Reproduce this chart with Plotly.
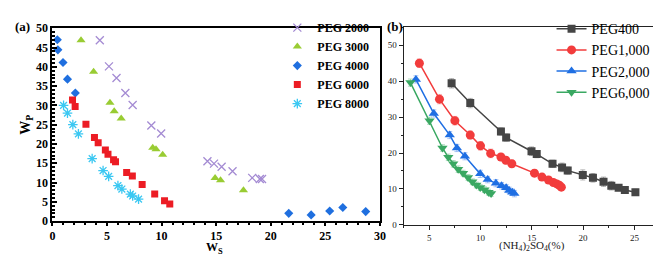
import plotly.graph_objects as go

# ---------------- Panel (a) data: W_P vs W_S ----------------
peg2000_ws = [4.34, 5.18, 5.87, 6.68, 7.35, 9.06, 9.96, 14.2, 14.8, 15.5, 16.5, 18.3, 19.0, 19.2]
peg2000_wp = [46.9, 40.1, 37.1, 33.2, 30.1, 24.8, 22.7, 15.5, 14.9, 14.1, 12.9, 11.2, 10.9, 10.9]

peg3000_ws = [2.62, 3.77, 5.27, 5.66, 6.30, 9.19, 9.49, 10.1, 14.9, 15.4, 17.5]
peg3000_wp = [46.9, 38.7, 30.7, 28.5, 26.6, 19.0, 18.6, 17.2, 11.2, 10.6, 8.0]

peg4000_ws = [0.45, 0.50, 0.97, 1.38, 2.10, 21.65, 23.7, 25.4, 26.6, 28.7]
peg4000_wp = [47.0, 44.4, 41.1, 36.8, 33.2, 2.0, 1.6, 2.6, 3.5, 2.45]

peg6000_ws = [1.84, 2.08, 3.07, 3.85, 4.19, 4.85, 5.09, 5.60, 5.78, 6.80, 7.32, 8.22, 9.37, 10.27, 10.75]
peg6000_wp = [31.4, 29.7, 25.1, 21.7, 20.3, 18.4, 17.3, 15.9, 15.4, 12.6, 11.7, 9.5, 7.0, 5.3, 4.4]

peg8000_ws = [1.02, 1.38, 1.87, 2.38, 3.64, 4.64, 5.15, 6.00, 6.36, 7.14, 7.35, 7.89]
peg8000_wp = [30.0, 28.0, 25.0, 22.6, 16.2, 13.1, 11.6, 9.2, 8.3, 7.0, 6.5, 5.7]

# ---------------- Panel (b) data: PEG % vs (NH4)2SO4 % ----------------
b400_x = [7.18, 9.0, 11.99, 12.5, 14.97, 15.48, 17.02, 17.95, 18.5, 19.97, 20.96, 21.99, 22.75, 23.46, 24.07, 25.1]
b400_y = [39.4, 33.9, 26.0, 24.3, 20.5, 19.7, 17.0, 16.0, 15.1, 13.9, 13.1, 12.0, 10.9, 10.3, 9.7, 9.1]
b400_err = [1.3, 1.3, 1.0, 1.0, 1.2, 1.0, 1.0, 1.2, 1.0, 1.4, 1.2, 1.3, 1.2, 0.8, 0.8, 0.8]

b1000_x = [4.04, 6.0, 7.5, 9.0, 10.0, 10.99, 11.99, 12.47, 13.05, 15.26, 15.99, 16.63, 17.1, 17.43, 17.69, 17.88]
b1000_y = [45.0, 35.0, 29.0, 25.0, 22.0, 19.9, 18.9, 18.0, 17.0, 14.4, 13.3, 12.5, 11.8, 11.4, 11.0, 10.5]
b1000_err = [1.2, 1.3, 1.2, 1.1, 1.2, 1.2, 1.0, 1.0, 1.0, 1.0, 0.9, 0.8, 0.8, 0.8, 0.7, 0.7]

b2000_x = [3.7, 5.45, 7.0, 7.7, 8.48, 9.97, 10.7, 11.5, 12.05, 12.5, 12.8, 13.1, 13.3]
b2000_y = [40.5, 31.0, 25.0, 21.4, 19.1, 14.2, 12.6, 11.6, 10.9, 10.3, 9.6, 9.1, 8.7]
b2000_err = [1.0, 1.0, 1.0, 1.0, 1.0, 1.0, 0.9, 1.0, 0.9, 0.9, 0.9, 0.9, 0.9]

b6000_x = [3.17, 5.03, 6.29, 6.86, 7.34, 7.82, 8.3, 8.78, 9.2, 9.59, 9.97, 10.38, 10.77, 11.03]
b6000_y = [39.6, 29.0, 21.4, 18.8, 17.0, 15.5, 14.4, 13.2, 12.0, 11.1, 10.4, 9.8, 9.1, 8.7]
b6000_err = [1.0, 1.0, 0.9, 0.9, 0.9, 0.9, 0.8, 0.8, 0.8, 0.8, 0.8, 0.8, 0.8, 0.8]

names_a = ["PEG 2000", "PEG 3000", "PEG 4000", "PEG 6000", "PEG 8000"]
names_b = ["PEG400", "PEG1,000", "PEG2,000", "PEG6,000"]

SERIF = "Liberation Serif"
fig = go.Figure()

# ---- panel (a) traces ----
fig.add_trace(go.Scatter(x=peg2000_ws, y=peg2000_wp, mode="markers", name=names_a[0],
                         marker=dict(symbol="x-thin-open", size=8, color="#a48bd3",
                                     line=dict(width=1.3, color="#a48bd3")),
                         xaxis="x", yaxis="y", legend="legend"))
fig.add_trace(go.Scatter(x=peg3000_ws, y=peg3000_wp, mode="markers", name=names_a[1],
                         marker=dict(symbol="triangle-up", size=8, color="#99cc33"),
                         xaxis="x", yaxis="y", legend="legend"))
fig.add_trace(go.Scatter(x=peg4000_ws, y=peg4000_wp, mode="markers", name=names_a[2],
                         marker=dict(symbol="diamond", size=7, color="#1f6fdf"),
                         xaxis="x", yaxis="y", legend="legend"))
fig.add_trace(go.Scatter(x=peg6000_ws, y=peg6000_wp, mode="markers", name=names_a[3],
                         marker=dict(symbol="square", size=7, color="#ec1c24"),
                         xaxis="x", yaxis="y", legend="legend"))
fig.add_trace(go.Scatter(x=peg8000_ws, y=peg8000_wp, mode="markers", name=names_a[4],
                         marker=dict(symbol="asterisk-open", size=8, color="#3cc8f2",
                                     line=dict(width=1.3, color="#3cc8f2")),
                         xaxis="x", yaxis="y", legend="legend"))

# ---- panel (b) traces ----
def btrace(x, y, err, name, color, errcolor, symbol, size):
    return go.Scatter(x=x, y=y, mode="lines+markers", name=name,
                      line=dict(color=color, width=1.5),
                      marker=dict(symbol=symbol, size=size, color=color),
                      error_y=dict(type="data", array=err, color=errcolor, thickness=1, width=2.5),
                      xaxis="x2", yaxis="y2", legend="legend2")

fig.add_trace(btrace(b400_x, b400_y, b400_err, names_b[0], "#454545", "rgba(90,90,90,0.45)", "square", 8))
fig.add_trace(btrace(b1000_x, b1000_y, b1000_err, names_b[1], "#f23c3c", "rgba(240,80,80,0.4)", "circle", 9))
fig.add_trace(btrace(b2000_x, b2000_y, b2000_err, names_b[2], "#1f6fe3", "rgba(40,110,230,0.4)", "triangle-up", 9))
fig.add_trace(btrace(b6000_x, b6000_y, b6000_err, names_b[3], "#3aa862", "rgba(60,170,100,0.4)", "triangle-down", 9))

W, H = 661, 256
fig.update_layout(
    width=W, height=H,
    margin=dict(l=0, r=0, t=0, b=0),
    paper_bgcolor="white", plot_bgcolor="white",
    font=dict(family=SERIF, color="black"),
    xaxis=dict(domain=[42 / W, 374 / W], range=[0, 30], dtick=5, anchor="y",
               showline=True, linecolor="black", linewidth=2, mirror=True,
               ticks="outside", ticklen=3, tickwidth=1.5, tickcolor="black",
               minor=dict(ticks="outside", ticklen=2, dtick=1, tickcolor="black"),
               showgrid=False, zeroline=False,
               tickfont=dict(family=SERIF, size=12, color="black", weight="bold")),
    yaxis=dict(domain=[1 - 218 / H, 1 - 14 / H], range=[0, 50], dtick=5, anchor="x",
               showline=True, linecolor="black", linewidth=2, mirror=True,
               ticks="inside", ticklen=5, tickwidth=1.5, tickcolor="black",
               minor=dict(ticks="inside", ticklen=3, dtick=1, tickcolor="black"),
               showgrid=False, zeroline=False,
               tickfont=dict(family=SERIF, size=12, color="black", weight="bold"),
               title=dict(text="W<sub>P</sub>", standoff=2,
                          font=dict(family=SERIF, size=14, color="black", weight="bold"))),
    xaxis2=dict(domain=[398 / W, 658 / W], range=[2.5, 27.5], tick0=5, dtick=5, anchor="y2",
                showline=True, linecolor="#222", linewidth=1, mirror=True,
                ticks="outside", ticklen=4, tickcolor="#222",
                minor=dict(ticks="outside", ticklen=2, dtick=2.5, tick0=2.5, tickcolor="#222"),
                showgrid=False, zeroline=False,
                tickfont=dict(family=SERIF, size=9, color="#222")),
    yaxis2=dict(domain=[1 - 222 / H, 1 - 13 / H], range=[0, 55], dtick=10, anchor="x2",
                showline=True, linecolor="#222", linewidth=1, mirror=True,
                ticks="outside", ticklen=4, tickcolor="#222",
                minor=dict(ticks="outside", ticklen=2, dtick=5, tickcolor="#222"),
                showgrid=False, zeroline=False,
                tickfont=dict(family=SERIF, size=9, color="#222")),
    legend=dict(x=270 / W, y=1 + 2 / H, xanchor="left", yanchor="top",
                bgcolor="rgba(0,0,0,0)", tracegroupgap=0, itemwidth=30,
                font=dict(family=SERIF, size=12, color="black", weight="bold")),
    legend2=dict(x=548 / W, y=1 + 2 / H, xanchor="left", yanchor="top",
                 bgcolor="rgba(0,0,0,0)", itemwidth=30,
                 font=dict(family=SERIF, size=14, color="black")),
    annotations=[
        dict(text="<b>(a)</b>", x=2 / W, y=1 - 2 / H, xref="paper", yref="paper",
             xanchor="left", yanchor="top", showarrow=False,
             font=dict(family=SERIF, size=13, color="black")),
        dict(text="<b>(b)</b>", x=379 / W, y=1 - 2 / H, xref="paper", yref="paper",
             xanchor="left", yanchor="top", showarrow=False,
             font=dict(family=SERIF, size=13, color="black")),
        dict(text="<b>W<sub>S</sub></b>", x=206 / W, y=0, xref="paper", yref="paper",
             xanchor="center", yanchor="bottom", showarrow=False, borderpad=0,
             font=dict(family=SERIF, size=12, color="black")),
        dict(text="(NH<sub>4</sub>)<sub>2</sub>SO<sub>4</sub>(%)", x=528 / W, y=1 - 253 / H,
             xref="paper", yref="paper", xanchor="center", yanchor="bottom", showarrow=False,
             borderpad=0, font=dict(family=SERIF, size=11, color="#222")),
    ],
)

fig.write_html("out.html")
